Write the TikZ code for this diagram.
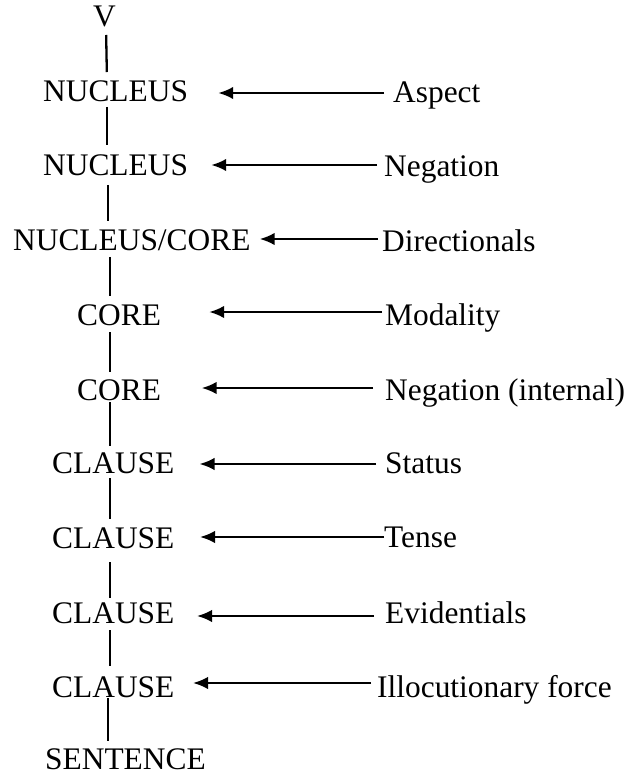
\documentclass[tikz,border=0pt]{standalone}
\usepackage{fontspec}
\setmainfont{Liberation Serif}
\usetikzlibrary{arrows.meta}
\tikzset{
  lab/.style={anchor=base west, inner sep=0pt, font=\fontsize{31.4}{36}\selectfont},
  spine/.style={line width=2.3pt},
  arr/.style={line width=2.3pt, -{Latex[length=15pt,width=12.5pt]}}
}
\begin{document}
\begin{tikzpicture}[x=1pt,y=-1pt]
\useasboundingbox (0,0) rectangle (631,775);
% left column
\node[lab] (V)   at (93,27)  {V};
\node[lab] (N1)  at (43,102) {NUCLEUS};
\node[lab] (N2)  at (43,176) {NUCLEUS};
\node[lab] (NC)  at (13,251) {NUCLEUS/CORE};
\node[lab] (C1)  at (77,325) {CORE};
\node[lab] (C2)  at (77,400) {CORE};
\node[lab] (CL1) at (52,473) {CLAUSE};
\node[lab] (CL2) at (52,548) {CLAUSE};
\node[lab] (CL3) at (52,623) {CLAUSE};
\node[lab] (CL4) at (52,697) {CLAUSE};
\node[lab] (S)   at (45,769) {SENTENCE};
% right labels
\node[lab] (L1) at (393,103) {Aspect};
\node[lab] (L2) at (384,177) {Negation};
\node[lab] (L3) at (382,252) {Directionals};
\node[lab] (L4) at (385,325) {Modality};
\node[lab] (L5) at (385,400) {Negation (internal)};
\node[lab] (L6) at (385,473) {Status};
\node[lab] (L7) at (384,547) {Tense};
\node[lab] (L8) at (385,623) {Evidentials};
\node[lab] (L9) at (377,697) {Illocutionary force};
% spine
\draw[spine, shorten <=8pt, shorten >=9pt]  (V.base -| 106,0)   -- (N1.north -| 107,0);
\draw[spine, shorten <=5pt, shorten >=10pt] (N1.base -| 107,0)  -- (N2.north -| 107,0);
\draw[spine, shorten <=9pt, shorten >=9pt]  (N2.base -| 108,0)  -- (NC.north -| 108,0);
\draw[spine, shorten <=6pt, shorten >=8pt]  (NC.base -| 110,0)  -- (C1.north -| 110,0);
\draw[spine, shorten <=7pt, shorten >=7pt]  (C1.base -| 110,0)  -- (C2.north -| 110,0);
\draw[spine, shorten <=2pt, shorten >=6pt]  (C2.base -| 110,0)  -- (CL1.north -| 110,0);
\draw[spine, shorten <=5pt, shorten >=8pt]  (CL1.base -| 110,0) -- (CL2.north -| 110,0);
\draw[spine, shorten <=14pt, shorten >=4pt] (CL2.base -| 110,0) -- (CL3.north -| 110,0);
\draw[spine, shorten <=7pt, shorten >=10pt] (CL3.base -| 110,0) -- (CL4.north -| 110,0);
\draw[spine, shorten <=1pt, shorten >=7pt]  (CL4.base -| 108,0) -- (S.north -| 108,0);
% arrow rows
\coordinate (r1) at (0,93);
\coordinate (r2) at (0,165);
\coordinate (r3) at (0,239);
\coordinate (r4) at (0,312);
\coordinate (r5) at (0,388);
\coordinate (r6) at (0,464);
\coordinate (r7) at (0,537);
\coordinate (r8) at (0,616);
\coordinate (r9) at (0,683);
\draw[arr, shorten <=9pt,  shorten >=30pt]   (r1 -| L1.west) -- (r1 -| N1.east);
\draw[arr, shorten <=7pt,  shorten >=23pt]   (r2 -| L2.west) -- (r2 -| N2.east);
\draw[arr, shorten <=4pt,  shorten >=9pt]    (r3 -| L3.west) -- (r3 -| NC.east);
\draw[arr, shorten <=3pt,  shorten >=48pt]   (r4 -| L4.west) -- (r4 -| C1.east);
\draw[arr, shorten <=12pt, shorten >=40.5pt] (r5 -| L5.west) -- (r5 -| C2.east);
\draw[arr, shorten <=9pt,  shorten >=25pt]   (r6 -| L6.west) -- (r6 -| CL1.east);
\draw[arr, shorten <=0pt,  shorten >=25.5pt] (r7 -| L7.west) -- (r7 -| CL2.east);
\draw[arr, shorten <=11pt, shorten >=22.5pt] (r8 -| L8.west) -- (r8 -| CL3.east);
\draw[arr, shorten <=6pt,  shorten >=18.5pt] (r9 -| L9.west) -- (r9 -| CL4.east);
\end{tikzpicture}
\end{document}
